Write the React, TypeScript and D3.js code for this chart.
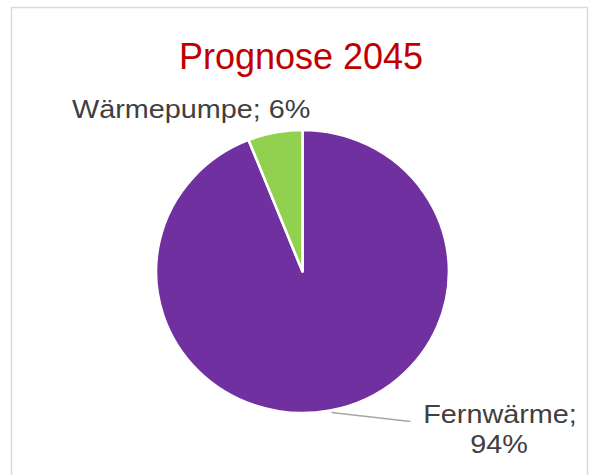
import React, { useRef, useEffect } from "react";
import * as d3 from "d3";

const categories = ["Fernwärme", "Wärmepumpe"];
const shares = [94, 6];
const colors = ["#7030a0", "#92d050"];
const title = "Prognose 2045";

const width = 589;
const height = 475;

type Slice = { label: string; value: number; color: string };

export default function App() {
  const svgRef = useRef<SVGSVGElement>(null);

  useEffect(() => {
    if (!svgRef.current) return;
    const svg = d3.select(svgRef.current);
    svg.selectAll("*").remove();

    // frame
    svg
      .append("rect")
      .attr("x", 11.5)
      .attr("y", 7.5)
      .attr("width", 576)
      .attr("height", 480)
      .attr("fill", "#fff")
      .attr("stroke", "#d9d9d9")
      .attr("stroke-width", 1.5);

    svg
      .append("text")
      .attr("x", 301)
      .attr("y", 69)
      .attr("text-anchor", "middle")
      .style("font-family", "Liberation Sans, Arial, sans-serif")
      .style("font-size", "36px")
      .style("fill", "#c00000")
      .text(title);

    const cx = 302.5;
    const cy = 271.5;
    const r = 141.5;

    const data: Slice[] = categories.map((c, i) => ({ label: c, value: shares[i], color: colors[i] }));
    const pie = d3
      .pie<Slice>()
      .sort(null)
      .value((d) => d.value);
    const arcs = pie(data);
    const arc = d3.arc<d3.PieArcDatum<Slice>>().innerRadius(0).outerRadius(r);

    // the source picture is slightly stretched horizontally
    const g = svg.append("g").attr("transform", `translate(${cx},${cy}) scale(1.035,1)`);
    g.selectAll("path.slice")
      .data(arcs)
      .join("path")
      .attr("class", "slice")
      .attr("d", arc)
      .attr("fill", (d) => d.data.color)
      .attr("stroke", "#fff")
      .attr("stroke-width", 2.5)
      .attr("stroke-linejoin", "round");

    // leader line for Fernwärme
    svg
      .append("path")
      .attr("d", `M${cx + 29},${cy + 141} L${cx + 108},${cy + 150}`)
      .attr("stroke", "#a6a6a6")
      .attr("stroke-width", 1.5)
      .attr("fill", "none");

    const label = (x: number, y: number, anchor: string) =>
      svg
        .append("g")
        .attr("transform", `translate(${x},${y}) scale(1.13,1)`)
        .append("text")
        .attr("text-anchor", anchor)
        .style("font-family", "Liberation Sans, Arial, sans-serif")
        .style("font-size", "25.5px")
        .style("fill", "#404040");

    label(72, 118, "start").text(`${categories[1]}; ${shares[1]}%`);
    label(500, 423, "middle").text(`${categories[0]};`);
    label(499, 453, "middle").text(`${shares[0]}%`);
  }, []);

  return (
    <svg
      ref={svgRef}
      width={width}
      height={height}
      style={{ position: "absolute", left: 0, top: 0 }}
    />
  );
}
